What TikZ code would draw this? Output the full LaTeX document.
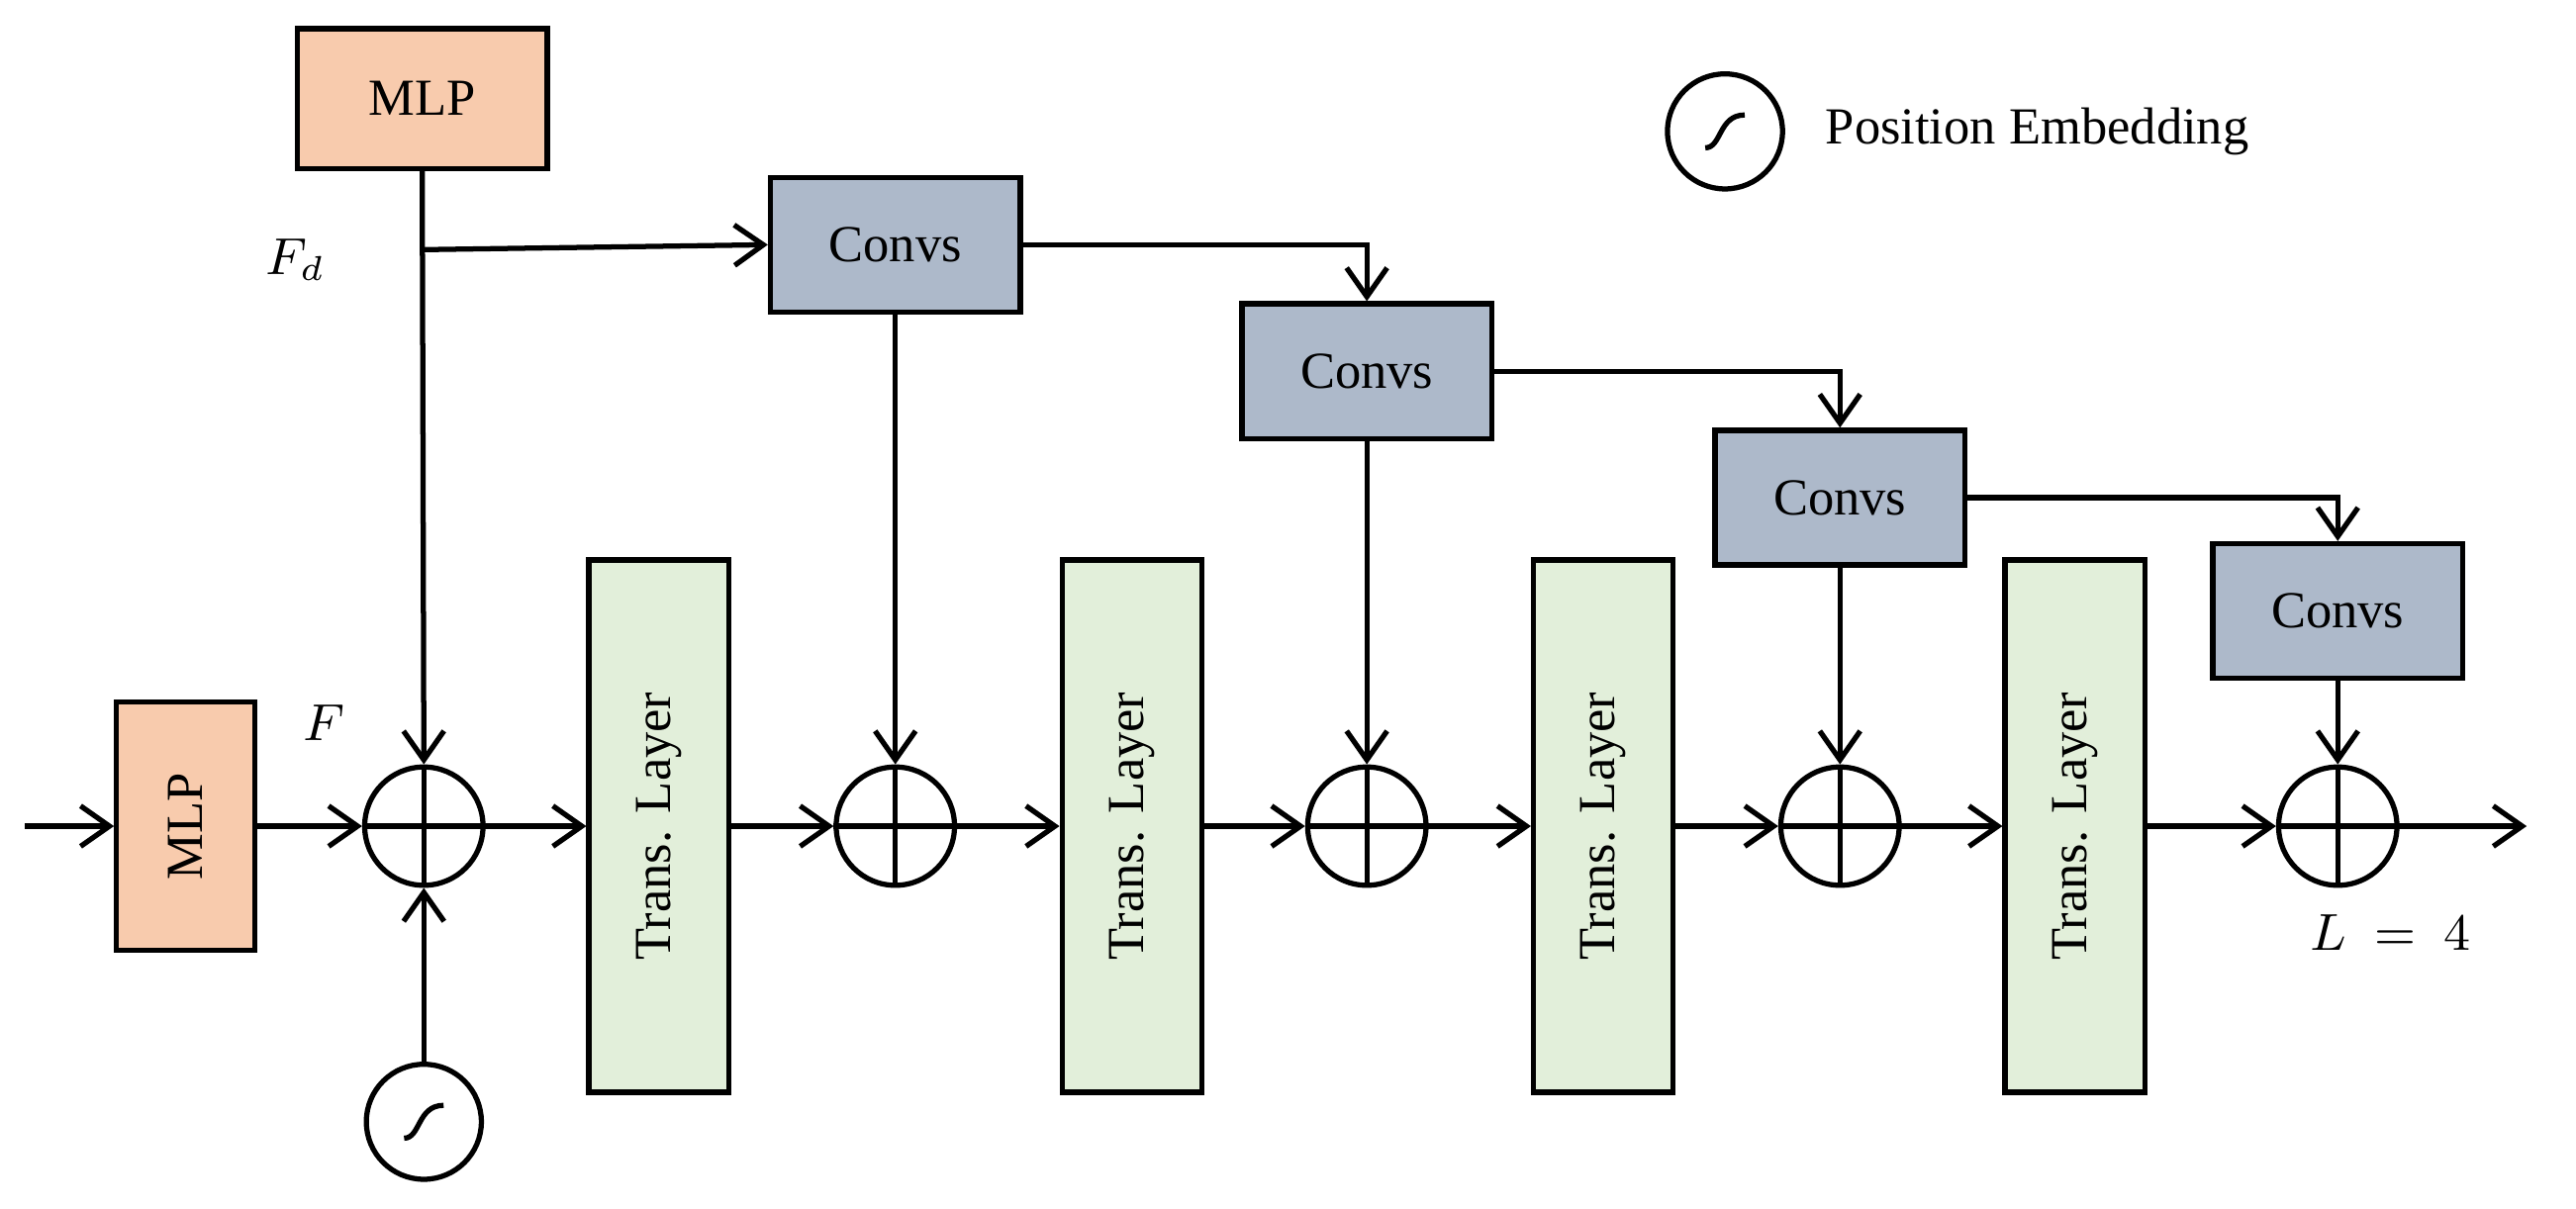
\documentclass[tikz,border=0pt]{standalone}
\usepackage{fontspec}
\setmainfont{Liberation Serif}
\usetikzlibrary{arrows.meta}
\definecolor{mlp}{HTML}{F8CBAD}
\definecolor{conv}{HTML}{ADB9CA}
\definecolor{trans}{HTML}{E2EFDA}
\begin{document}
\begin{tikzpicture}[x=0.01cm,y=-0.01cm,line width=0.9pt,
  every node/.style={font=\fontsize{9}{11}\selectfont},
  box/.style={draw,minimum width=1.52cm,minimum height=0.82cm,inner sep=0},
  mlpb/.style={box,fill=mlp},
  convb/.style={box,fill=conv},
  trb/.style={draw,fill=trans,minimum width=3.24cm,minimum height=0.85cm,rotate=90,inner sep=0},
  op/.style={draw,circle,minimum size=0.72cm,inner sep=0},
  pe/.style={draw,circle,minimum size=0.7cm,inner sep=0},
  arr/.style={-{Straight Barb[length=5pt,width=7pt]}}]
\useasboundingbox (0,0) rectangle (1568,736);
% nodes
\node[mlpb,minimum width=1.52cm,minimum height=0.85cm] (mlp1) at (257,60) {MLP};
\node[mlpb,minimum width=0.84cm,minimum height=1.51cm] (mlp2) at (113,503) {};
\node[rotate=90] at (113,503) {MLP};
\node[convb] (c1) at (545,149) {Convs};
\node[convb] (c2) at (832,226) {Convs};
\node[convb] (c3) at (1120,303) {Convs};
\node[convb] (c4) at (1423,372) {Convs};
\foreach \i/\x in {1/258,2/545,3/832,4/1120,5/1423}{
  \node[op] (o\i) at (\x,503) {};
  \draw (o\i.north)--(o\i.south) (o\i.west)--(o\i.east);
}
\foreach \i/\x in {1/401,2/689,3/976,4/1263}{
  \node[trb] (t\i) at (\x,503) {Trans. Layer};
}
\node[pe] (pe) at (258,683) {};
\draw ([shift={(-12,10)}]pe.center) .. controls ([shift={(-2,10)}]pe.center) and ([shift={(-4,-10)}]pe.center) .. ([shift={(12,-10)}]pe.center);
\node[pe] (leg) at (1050,80) {};
\draw ([shift={(-12,10)}]leg.center) .. controls ([shift={(-2,10)}]leg.center) and ([shift={(-4,-10)}]leg.center) .. ([shift={(12,-10)}]leg.center);
\node[anchor=west] (legt) at (1098,80) {Position Embedding};
\node (fd) at (180,158) {$F_d$};
\node (f) at (197,440) {$F$};
\node (l) at (1455,568) {$L\ =\ 4$};
\coordinate (in) at (15,503);
\coordinate (out) at (1538,503);
\coordinate (br) at (258,152);
% connectors
\draw[arr] (in)--(mlp2.west);
\draw[arr] (mlp2.east)--(o1.west);
\draw[arr] (o1.east)--(t1.north);
\draw[arr] (t1.south)--(o2.west);
\draw[arr] (o2.east)--(t2.north);
\draw[arr] (t2.south)--(o3.west);
\draw[arr] (o3.east)--(t3.north);
\draw[arr] (t3.south)--(o4.west);
\draw[arr] (o4.east)--(t4.north);
\draw[arr] (t4.south)--(o5.west);
\draw[arr] (o5.east)--(out);
\draw[arr] (mlp1.south)--(o1.north);
\draw[arr] (br)--(c1.west);
\draw[arr] (pe.north)--(o1.south);
\draw[arr] (c1.east)-|(c2.north);
\draw[arr] (c2.east)-|(c3.north);
\draw[arr] (c3.east)-|(c4.north);
\draw[arr] (c1.south)--(o2.north);
\draw[arr] (c2.south)--(o3.north);
\draw[arr] (c3.south)--(o4.north);
\draw[arr] (c4.south)--(o5.north);
\end{tikzpicture}
\end{document}
